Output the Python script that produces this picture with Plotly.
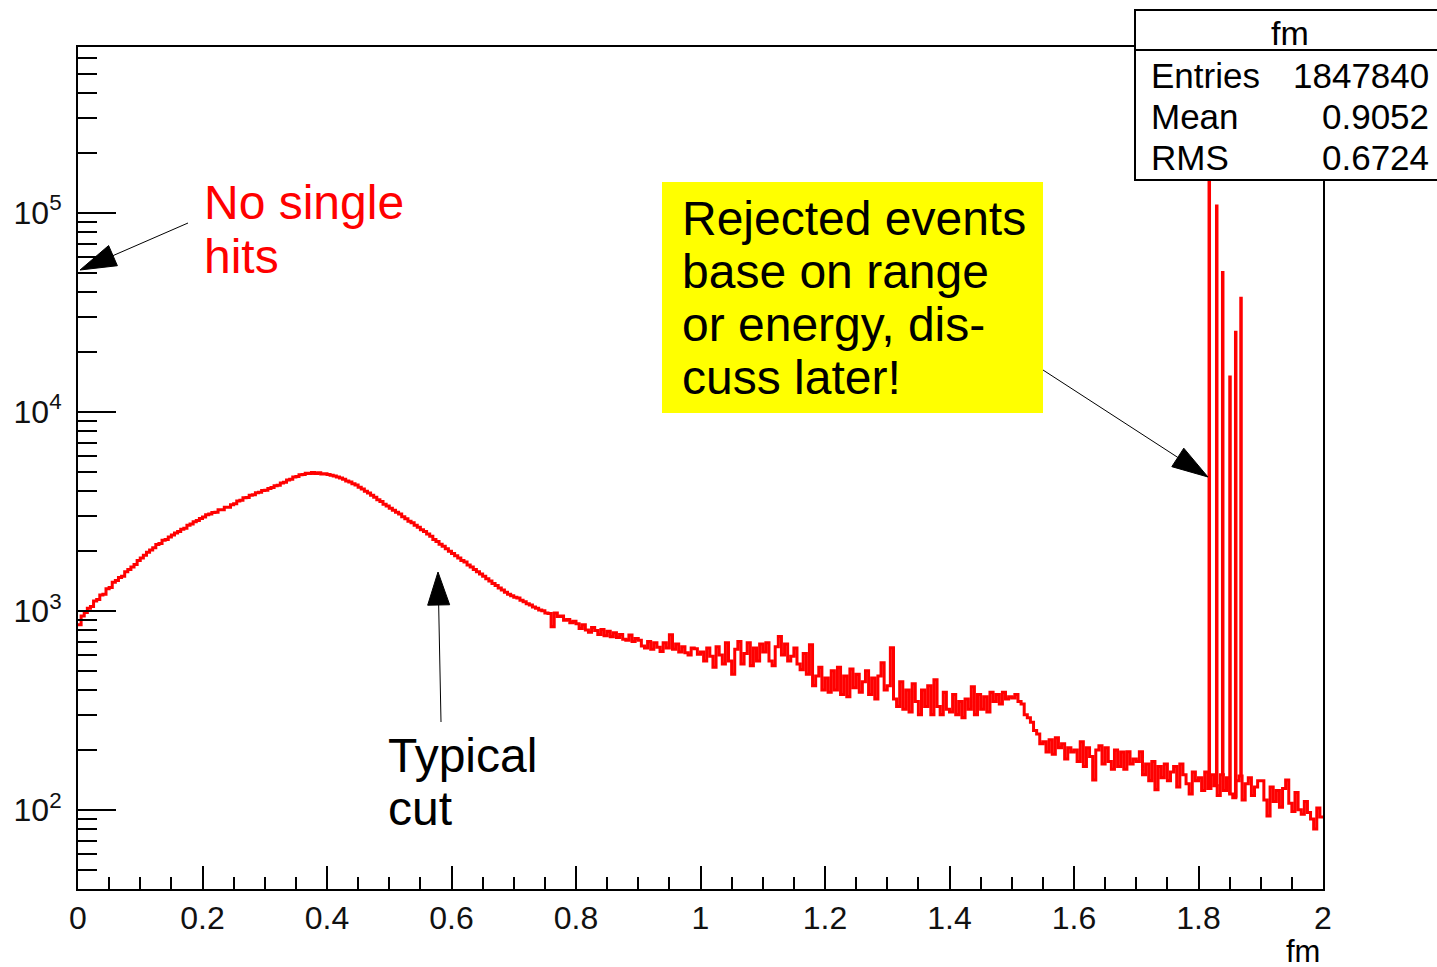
import numpy as np
import plotly.graph_objects as go

# ---------------- data ----------------
bin_width = 0.005
x_min, x_max = 0.0, 2.0

counts_00 = [850, 940, 980, 1030, 1050, 1120, 1140, 1200, 1210, 1290, 1310, 1390, 1420, 1470, 1490, 1570, 1610, 1660, 1710, 1790]
counts_01 = [1840, 1900, 1970, 2020, 2070, 2150, 2180, 2260, 2280, 2350, 2400, 2460, 2500, 2570, 2600, 2690, 2730, 2800, 2840, 2910]
counts_02 = [2960, 3040, 3060, 3120, 3130, 3220, 3220, 3310, 3310, 3410, 3450, 3560, 3590, 3700, 3710, 3800, 3830, 3920, 3940, 4020]
counts_03 = [4030, 4120, 4160, 4250, 4270, 4380, 4420, 4540, 4580, 4700, 4730, 4820, 4840, 4910, 4900, 4950, 4890, 4940, 4870, 4880]
counts_04 = [4840, 4800, 4750, 4700, 4640, 4580, 4490, 4430, 4350, 4280, 4170, 4090, 3980, 3900, 3810, 3720, 3610, 3540, 3430, 3360]
counts_05 = [3270, 3200, 3130, 3060, 2970, 2900, 2820, 2770, 2690, 2630, 2550, 2500, 2430, 2370, 2280, 2230, 2160, 2110, 2050, 1990]
counts_06 = [1940, 1890, 1840, 1790, 1760, 1700, 1660, 1610, 1570, 1530, 1490, 1450, 1410, 1370, 1340, 1300, 1270, 1240, 1210, 1190]
counts_07 = [1170, 1160, 1130, 1110, 1085, 1070, 1045, 1030, 1010, 1000, 975, 970, 830, 975, 935, 940, 895, 905, 870, 885]
counts_08 = [860, 815, 850, 800, 780, 825, 795, 760, 805, 750, 790, 740, 775, 735, 760, 720, 710, 755, 700, 725]
counts_09 = [710, 665, 650, 700, 640, 690, 655, 625, 690, 650, 757, 640, 680, 620, 660, 615, 600, 650, 645, 605]
counts_10 = [620, 560, 650, 590, 520, 660, 600, 540, 690, 560, 480, 640, 700, 540, 610, 690, 530, 650, 560, 680]
counts_11 = [620, 690, 560, 530, 660, 743, 600, 680, 560, 590, 650, 540, 505, 610, 480, 675, 420, 470, 520, 400]
counts_12 = [460, 390, 500, 400, 520, 380, 470, 370, 510, 410, 480, 390, 440, 500, 380, 460, 360, 470, 548, 400]
counts_13 = [420, 652, 360, 330, 440, 320, 400, 310, 430, 350, 300, 400, 330, 420, 300, 450, 330, 300, 390, 320]
counts_14 = [310, 380, 300, 350, 290, 360, 320, 415, 300, 380, 320, 370, 310, 390, 350, 380, 340, 390, 360, 370]
counts_15 = [365, 380, 350, 340, 300, 290, 275, 250, 240, 215, 220, 195, 225, 190, 230, 205, 215, 180, 205, 195]
counts_16 = [200, 175, 220, 165, 205, 185, 141, 200, 210, 170, 205, 175, 160, 200, 165, 195, 160, 196, 170, 180]
counts_17 = [175, 196, 150, 170, 140, 175, 126, 165, 145, 170, 140, 155, 165, 130, 170, 150, 135, 120, 155, 140]
counts_18 = [145, 125, 155, 128, 150, 132, 118, 150, 125, 145, 120, 115, 140, 148, 112, 135, 145, 118, 130, 140]
counts_19 = [140, 112, 93, 130, 110, 125, 103, 128, 141, 108, 98, 122, 100, 95, 110, 97, 90, 80, 102, 92]

# narrow spikes ("rejected events")
spike_x = [1.8173, 1.8293, 1.8389, 1.8506, 1.8598, 1.8683]
spike_top = [180000, 110000, 51000, 15200, 25500, 37800]

# stats box
stats_title = "fm"
stats_names = ["Entries", "Mean", "RMS"]
stats_values = ["1847840", "0.9052", "0.6724"]

x_tick_vals = [0, 0.2, 0.4, 0.6, 0.8, 1, 1.2, 1.4, 1.6, 1.8, 2]
x_tick_text = ["0", "0.2", "0.4", "0.6", "0.8", "1", "1.2", "1.4", "1.6", "1.8", "2"]
y_tick_vals = [1e2, 1e3, 1e4, 1e5]
y_tick_text = ["10<sup>2</sup>", "10<sup>3</sup>", "10<sup>4</sup>", "10<sup>5</sup>"]
y_range = [40, 6.8e5]

# ---------------- build histogram ----------------
counts = (counts_00 + counts_01 + counts_02 + counts_03 + counts_04 + counts_05 + counts_06 +
          counts_07 + counts_08 + counts_09 + counts_10 + counts_11 + counts_12 + counts_13 +
          counts_14 + counts_15 + counts_16 + counts_17 + counts_18 + counts_19)
n_bins = len(counts)
edges = x_min + bin_width * np.arange(n_bins + 1)
step_x = list(edges)
step_y = counts + [counts[-1]]

RED = "#ff0000"
FONT = "Liberation Sans, Arial, sans-serif"
fig = go.Figure()
fig.add_trace(go.Scatter(x=step_x, y=step_y, mode="lines", line=dict(color=RED, width=3, shape="hv"),
                         showlegend=False, hoverinfo="skip"))

sx, sy = [], []
for xs, top in zip(spike_x, spike_top):
    idx = min(int((xs - x_min) / bin_width), n_bins - 1)
    sx += [xs, xs, None]
    sy += [counts[idx], top, None]
fig.add_trace(go.Scatter(x=sx, y=sy, mode="lines", line=dict(color=RED, width=3.5),
                         showlegend=False, hoverinfo="skip"))

# ---------------- layout helpers (pixel -> paper) ----------------
W, H = 1437, 967
L, R, T, B = 78, 1323, 47, 889


def px(x):
    return (x - L) / (R - L)


def py(y):
    return (B - y) / (B - T)


shapes = []
annotations = []


def arrow(x0, y0, x1, y1, hl=34, hw=22, lw=1):
    dx, dy = x1 - x0, y1 - y0
    n = (dx * dx + dy * dy) ** 0.5
    ux, uy = dx / n, dy / n
    bx, by = x1 - ux * hl, y1 - uy * hl
    nx, ny = -uy, ux
    shapes.append(dict(type="line", xref="paper", yref="paper", x0=px(x0), y0=py(y0), x1=px(bx), y1=py(by),
                       line=dict(color="black", width=lw), layer="above"))
    p1 = (bx + nx * hw / 2, by + ny * hw / 2)
    p2 = (bx - nx * hw / 2, by - ny * hw / 2)
    path = "M{:.5f},{:.5f} L{:.5f},{:.5f} L{:.5f},{:.5f} Z".format(px(x1), py(y1), px(p1[0]), py(p1[1]), px(p2[0]), py(p2[1]))
    shapes.append(dict(type="path", xref="paper", yref="paper", path=path, fillcolor="black",
                       line=dict(color="black", width=1), layer="above"))


def text(x, y, s, size, color="black", xanchor="left", yanchor="middle"):
    annotations.append(dict(x=px(x), y=py(y), xref="paper", yref="paper", text=s, showarrow=False,
                            xanchor=xanchor, yanchor=yanchor,
                            font=dict(family=FONT, size=size, color=color)))


# "No single hits"
text(202, 203, "No single", 48, RED)
text(202, 256, "hits", 48, RED)
arrow(188, 223, 80, 270, hl=36, hw=22)

# yellow box
shapes.append(dict(type="rect", xref="paper", yref="paper", x0=px(662), x1=px(1043), y0=py(182), y1=py(413),
                   fillcolor="#ffff00", line=dict(width=0), layer="above"))
for i, s in enumerate(["Rejected events", "base on range", "or energy, dis-", "cuss later!"]):
    text(680, 218 + 53 * i, s, 48)
arrow(1043, 370, 1208, 477, hl=36, hw=22)

# typical cut
text(386, 755, "Typical", 48)
text(386, 808, "cut", 48)
arrow(441, 722, 438, 572, hl=33, hw=22)

# stats box
shapes.append(dict(type="rect", xref="paper", yref="paper", x0=px(1135), x1=px(1450), y0=py(10), y1=py(180),
                   fillcolor="white", line=dict(color="black", width=2), layer="above"))
shapes.append(dict(type="line", xref="paper", yref="paper", x0=px(1135), x1=px(1450), y0=py(50), y1=py(50),
                   line=dict(color="black", width=2), layer="above"))
text(1290, 33, stats_title, 34, xanchor="center")
for i, (nm, vl) in enumerate(zip(stats_names, stats_values)):
    text(1149, 75 + 41 * i, nm, 35)
    text(1431, 75 + 41 * i, vl, 35, xanchor="right")

# x axis title
text(1322, 951, "fm", 31, xanchor="right")

minor_y = [m * 10 ** e for e in range(1, 6) for m in range(2, 10) if y_range[0] <= m * 10 ** e <= y_range[1]]

fig.update_layout(
    width=W, height=H,
    margin=dict(l=L, r=W - R, t=T, b=H - B),
    paper_bgcolor="white", plot_bgcolor="white",
    showlegend=False,
    shapes=shapes, annotations=annotations,
    font=dict(family=FONT, color="black"),
    xaxis=dict(range=[x_min, x_max], showgrid=False, zeroline=False,
               showline=True, linecolor="black", linewidth=2, mirror=True,
               ticks="inside", ticklen=23, tickwidth=2, tickcolor="black",
               tickvals=x_tick_vals, ticktext=x_tick_text,
               tickfont=dict(size=32, family=FONT, color="#111111"),
               minor=dict(ticks="inside", ticklen=12, tickwidth=2, tickcolor="black", dtick=0.05, showgrid=False)),
    yaxis=dict(type="log", range=[np.log10(y_range[0]), np.log10(y_range[1])], showgrid=False, zeroline=False,
               showline=True, linecolor="black", linewidth=2, mirror=True,
               ticks="inside", ticklen=38, tickwidth=2, tickcolor="black",
               tickvals=y_tick_vals, ticktext=y_tick_text, ticklabelstandoff=8,
               tickfont=dict(size=32, family=FONT, color="#111111"),
               minor=dict(ticks="inside", ticklen=19, tickwidth=2, tickcolor="black", tickmode="array",
                          tickvals=minor_y, showgrid=False)),
)

fig.write_html("out.html", config={"displayModeBar": False},
               post_script="document.body.style.margin='0';document.body.style.overflow='hidden';")
